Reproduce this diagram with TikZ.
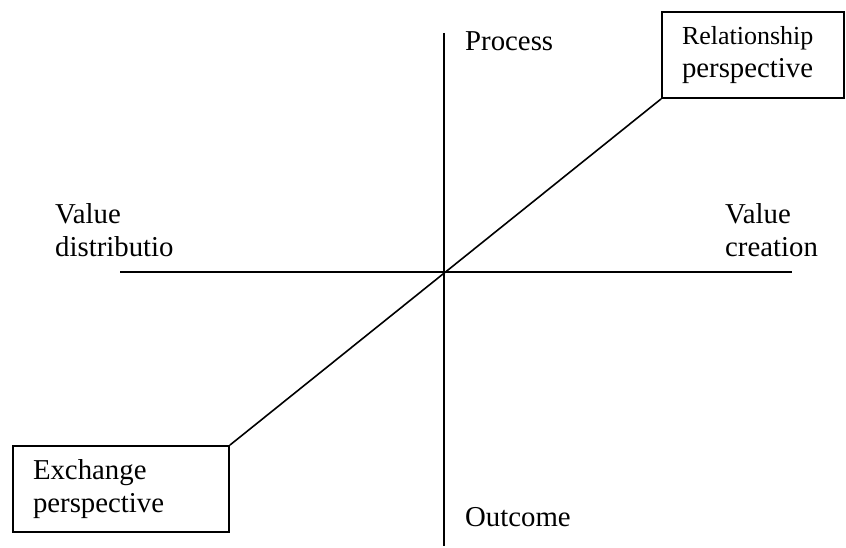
\documentclass[tikz,border=0pt]{standalone}
\usepackage{fontspec}
\setmainfont{Liberation Serif}

\begin{document}
\begin{tikzpicture}[x=1pt, y=-1pt,
    persp/.style={rectangle, draw, line width=1.8pt, align=left, inner xsep=20pt, minimum height=86pt, font=\fontsize{28.8}{33}\selectfont},
    lbl/.style={anchor=north west, inner sep=0pt, align=left, font=\fontsize{28.8}{33}\selectfont},
    axis/.style={line width=1.6pt}
]
\useasboundingbox (0,0) rectangle (846,548);

% Perspectives
\node[persp, text width=142pt] (rel) at (753,55) {{\fontsize{26}{30}\selectfont Relationship}\\ perspective};
\node[persp, text width=176pt] (exch) at (121,489) {Exchange\\ perspective};

% Axes
\coordinate (top) at (444,33);
\coordinate (bottom) at (444,546);
\coordinate (left) at (120,272);
\coordinate (right) at (792,272);
\draw[axis] (top) -- (bottom);
\draw[axis] (left) -- (right);
\draw[axis] (exch.north east) -- (rel.south west);

% Labels
\node[lbl] (process) at (465,31) {Process};
\node[lbl] (outcome) at (465,507) {Outcome};
\node[lbl] (distr) at (55,203) {Value\\ distributio};
\node[lbl] (creat) at (725,203) {Value\\ creation};

\end{tikzpicture}
\end{document}
